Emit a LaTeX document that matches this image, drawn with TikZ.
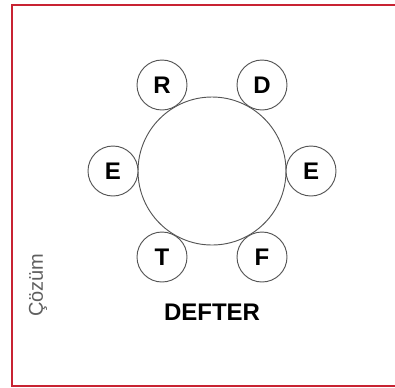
\documentclass[tikz,border=0pt]{standalone}
\usepackage{fontspec}
\setmainfont{Liberation Sans}
\usetikzlibrary{positioning}
\definecolor{framered}{RGB}{200,35,50}
\definecolor{ringgray}{RGB}{85,85,85}
\definecolor{notegray}{RGB}{95,95,95}

\begin{document}
\begin{tikzpicture}[x=0.75pt, y=-0.75pt, node distance=74.25pt and 74.25pt, on grid,
        seat/.style={circle, draw=ringgray, fill=white, line width=0.7pt, minimum size=37.5pt,
        inner sep=0pt, font=\bfseries\fontsize{18}{18}\selectfont},
        table/.style={circle, draw=ringgray, line width=0.7pt, minimum size=111pt}]
        \useasboundingbox (0,0) rectangle (395,387);
        \draw[framered, line width=1.6pt] (395,5) -- (12,5) -- (12,386) -- (395,386);

        \node[table] (tbl) at (212,171) {};
        \node[seat] (R) [above left=64.5pt and 37.5pt of tbl] {R};
        \node[seat] (D) [above right=64.5pt and 37.5pt of tbl] {D};
        \node[seat] (El) [left=of tbl] {E};
        \node[seat] (Er) [right=of tbl] {E};
        \node[seat] (T) [below left=64.5pt and 37.5pt of tbl] {T};
        \node[seat] (F) [below right=64.5pt and 37.5pt of tbl] {F};

        \node[font=\bfseries\fontsize{18}{18}\selectfont] (word) [below=105.75pt of tbl] {DEFTER};
        \node[rotate=90, text=notegray, font=\fontsize{15}{15}\selectfont] (note) at (38,285) {Çözüm};
\end{tikzpicture}
\end{document}
